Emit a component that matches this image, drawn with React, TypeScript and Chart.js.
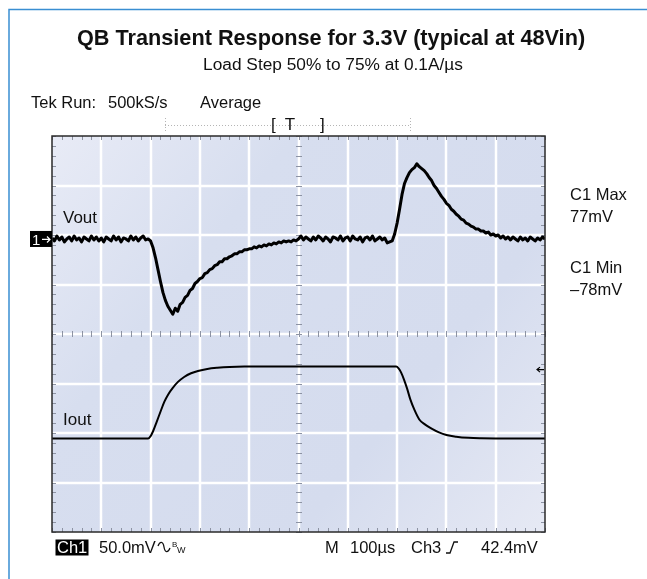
import React, { useEffect, useRef } from 'react';
import { Chart, registerables } from 'chart.js';

Chart.register(...registerables);

// ---------------- data ----------------
const TIME_MIN_US = 0;
const TIME_MAX_US = 1000;
const TIME_DIV_US = 100;
const VOUT_STEP_US = 5;
const VOUT_MV_PER_DIV = 50;
const VOUT_OFFSET_DIV = 1.92; // ch1 ground marker above screen centre
const IOUT_PCT_PER_DIV = 17.23;
const IOUT_50PCT_DIV = -2.11; // 50% load level below screen centre

// Vout deviation (mV) sampled every 5 µs, 0..1000 µs
const voutMv = [
  1, -2, 3, -1, 2, -3, 0, 2, -2, 3, -1, 1, -3, 2, 0, -2, 3, -1, 2, -2,
  1, -3, 2, 0, -2, 3, -1, 2, -3, 1, 0, -2, 3, -1, 2, -2, 1, 3, -1, 0,
  -2, -9, -19, -31, -43, -54, -62, -68, -72, -76, -70, -73, -66, -64, -59, -57, -52, -50, -45, -43,
  -40, -39, -35, -34, -31, -30, -27, -26, -23, -23, -20, -20, -18, -17, -15, -15, -13, -13, -11, -11,
  -10, -10, -8, -9, -7, -8, -6, -7, -5, -6, -4, -5, -3, -4, -2, -3, -2, -3, -1, -2,
  0, 3, -1, 2, 0, -2, 2, -1, 3, 1, -2, 2, 0, -3, 2, 1, -1, 3, -2, 1,
  2, -2, 3, 0, -1, 2, -3, 1, 2, -1, 3, -2, 0, 2, -1, 1, -4, -3, -2, 5,
  16, 30, 45, 56, 62, 67, 70, 72, 76, 73, 71, 69, 66, 62, 59, 54, 51, 47, 43, 40,
  36, 34, 30, 28, 25, 23, 20, 19, 16, 15, 13, 12, 10, 10, 8, 8, 6, 7, 4, 5,
  3, 4, 1, 3, 0, 2, -1, 2, 0, -2, 2, -1, 1, -2, 2, 0, -2, 1, -1, 2,
  0,
];

// Iout (% of full load)
const ioutTimesUs = [0, 195, 200, 205, 212, 220, 228, 236, 245, 255, 268, 282, 296, 315, 335, 360, 390,
  698, 703, 708, 714, 720, 727, 735, 745, 757, 770, 785, 800, 820, 845, 870, 900, 1000];
const ioutPct = [50, 50, 50.8, 52.5, 55.6, 59.3, 62.8, 65.4, 67.6, 69.6, 71.4, 72.7, 73.5, 74.2, 74.6, 74.9, 75,
  75, 74.4, 73, 70.5, 67.5, 63.5, 60, 56.6, 54.8, 53.4, 52.1, 51.2, 50.6, 50.2, 50.05, 50, 50];

// ---------------- text ----------------
const titleText = 'QB Transient Response for 3.3V (typical at 48Vin)';
const subtitleText = 'Load Step 50% to 75% at 0.1A/µs';
const tekRunText = 'Tek Run:';
const rateText = '500kS/s';
const modeText = 'Average';
const maxLabel = 'C1 Max';
const maxValue = '77mV';
const minLabel = 'C1 Min';
const minValue = '–78mV';
const voutLabel = 'Vout';
const ioutLabel = 'Iout';
const ch1Label = 'Ch1';
const ch1Scale = '50.0mV';
const timeBase = '100µs';
const trigSource = 'Ch3';
const trigLevel = '42.4mV';

const FONT = '"Liberation Sans", Arial, Helvetica, sans-serif';

const vMin = -(4 + VOUT_OFFSET_DIV) * VOUT_MV_PER_DIV;
const vMax = (4 - VOUT_OFFSET_DIV) * VOUT_MV_PER_DIV;
const iMin = 50 - (4 + IOUT_50PCT_DIV) * IOUT_PCT_PER_DIV;
const iMax = iMin + 8 * IOUT_PCT_PER_DIV;

function txt(ctx: CanvasRenderingContext2D, s: string, x: number, y: number, size: number,
  o: { bold?: boolean; color?: string; align?: CanvasTextAlign } = {}) {
  ctx.font = `${o.bold ? 'bold ' : ''}${size}px ${FONT}`;
  ctx.fillStyle = o.color ?? '#111';
  ctx.textAlign = o.align ?? 'left';
  ctx.textBaseline = 'alphabetic';
  ctx.fillText(s, x, y);
}

const overlay = {
  id: 'scopeOverlay',
  beforeDatasetsDraw(chart: any) {
    const { ctx, chartArea: a, scales } = chart;
    const xs = scales.x, ys = scales.yV;
    ctx.save();
    const g = ctx.createLinearGradient(a.left, a.top, a.right, a.bottom);
    g.addColorStop(0, '#e8ebf6');
    g.addColorStop(0.3, '#d7deef');
    g.addColorStop(0.7, '#d5dcee');
    g.addColorStop(1, '#e6e9f4');
    ctx.fillStyle = g;
    ctx.fillRect(a.left, a.top, a.right - a.left, a.bottom - a.top);

    ctx.strokeStyle = '#ffffff';
    ctx.lineWidth = 2.5;
    for (let t = TIME_MIN_US + TIME_DIV_US; t < TIME_MAX_US; t += TIME_DIV_US) {
      const px = Math.round(xs.getPixelForValue(t));
      ctx.beginPath(); ctx.moveTo(px, a.top); ctx.lineTo(px, a.bottom); ctx.stroke();
    }
    for (let k = 1; k < 8; k++) {
      const py = Math.round(ys.getPixelForValue(vMin + k * VOUT_MV_PER_DIV));
      ctx.beginPath(); ctx.moveTo(a.left, py); ctx.lineTo(a.right, py); ctx.stroke();
    }
    // centre graticule minor ticks
    ctx.strokeStyle = '#8d93a3';
    ctx.lineWidth = 1;
    const cx = Math.round(xs.getPixelForValue((TIME_MIN_US + TIME_MAX_US) / 2));
    const cy = Math.round(ys.getPixelForValue(vMin + 4 * VOUT_MV_PER_DIV));
    for (let t = TIME_MIN_US; t <= TIME_MAX_US; t += TIME_DIV_US / 5) {
      const px = Math.round(xs.getPixelForValue(t)) + 0.5;
      ctx.beginPath(); ctx.moveTo(px, cy - 3); ctx.lineTo(px, cy + 3); ctx.stroke();
      ctx.beginPath(); ctx.moveTo(px, a.bottom - 4); ctx.lineTo(px, a.bottom); ctx.stroke();
      ctx.beginPath(); ctx.moveTo(px, a.top); ctx.lineTo(px, a.top + 4); ctx.stroke();
    }
    for (let v = vMin; v <= vMax + 0.01; v += VOUT_MV_PER_DIV / 5) {
      const py = Math.round(ys.getPixelForValue(v)) + 0.5;
      ctx.beginPath(); ctx.moveTo(cx - 3, py); ctx.lineTo(cx + 3, py); ctx.stroke();
      ctx.beginPath(); ctx.moveTo(a.left, py); ctx.lineTo(a.left + 4, py); ctx.stroke();
      ctx.beginPath(); ctx.moveTo(a.right - 4, py); ctx.lineTo(a.right, py); ctx.stroke();
    }
    ctx.restore();
  },
  afterDatasetsDraw(chart: any) {
    const { ctx, chartArea: a, scales } = chart;
    const ys = scales.yV, yi = scales.yI;
    ctx.save();
    // plot border
    ctx.strokeStyle = '#2a2a2a';
    ctx.lineWidth = 1.5;
    ctx.strokeRect(a.left, a.top, a.right - a.left, a.bottom - a.top);

    // page frame (blue corner lines)
    ctx.strokeStyle = '#3a8ed2';
    ctx.lineWidth = 1.5;
    ctx.beginPath();
    ctx.moveTo(9, chart.height); ctx.lineTo(9, 9.5); ctx.lineTo(chart.width, 9.5);
    ctx.stroke();

    // ch1 ground marker
    const gy = ys.getPixelForValue(0);
    ctx.fillStyle = '#000';
    ctx.fillRect(30, gy - 8, a.left - 30, 16);
    txt(ctx, '1', 32, gy + 6, 15, { color: '#fff' });
    ctx.strokeStyle = '#fff';
    ctx.lineWidth = 1.2;
    ctx.beginPath();
    ctx.moveTo(42, gy + 0.5); ctx.lineTo(50, gy + 0.5);
    ctx.moveTo(47, gy - 2.5); ctx.lineTo(50, gy + 0.5); ctx.lineTo(47, gy + 3.5);
    ctx.stroke();

    // trigger level marker (right edge)
    const ty = yi.getPixelForValue(75) + 3;
    ctx.strokeStyle = '#000';
    ctx.lineWidth = 1.2;
    ctx.beginPath();
    ctx.moveTo(544, ty); ctx.lineTo(537, ty);
    ctx.moveTo(540, ty - 2.5); ctx.lineTo(537, ty); ctx.lineTo(540, ty + 2.5);
    ctx.stroke();
    ctx.restore();
  },
  afterDraw(chart: any) {
    const { ctx } = chart;
    ctx.save();
    txt(ctx, titleText, 331, 45, 21.7, { bold: true, align: 'center' });
    txt(ctx, subtitleText, 333, 70, 17.3, { align: 'center' });

    txt(ctx, tekRunText, 31, 108, 16.5);
    txt(ctx, rateText, 108, 108, 16.5);
    txt(ctx, modeText, 200, 108, 16.5);

    // trigger position bar
    ctx.strokeStyle = '#b5b5b5';
    ctx.lineWidth = 1;
    ctx.setLineDash([1, 2]);
    ctx.beginPath();
    ctx.moveTo(165, 125.5); ctx.lineTo(411, 125.5);
    ctx.moveTo(165.5, 118); ctx.lineTo(165.5, 133);
    ctx.moveTo(410.5, 118); ctx.lineTo(410.5, 133);
    ctx.stroke();
    ctx.setLineDash([]);
    txt(ctx, '[', 271, 130, 17);
    txt(ctx, 'T', 290, 130, 17, { align: 'center' });
    txt(ctx, ']', 320, 130, 17);

    txt(ctx, maxLabel, 570, 200, 16.5);
    txt(ctx, maxValue, 570, 222, 16.5);
    txt(ctx, minLabel, 570, 273, 16.5);
    txt(ctx, minValue, 570, 295, 16.5);

    txt(ctx, voutLabel, 63, 223, 17);
    txt(ctx, ioutLabel, 63, 425, 17);

    // bottom status line
    ctx.fillStyle = '#000';
    ctx.fillRect(55.5, 539.5, 33, 16);
    txt(ctx, ch1Label, 57, 553, 16.5, { color: '#fff' });
    txt(ctx, ch1Scale, 99, 553, 16.5);
    // bandwidth-limit glyph
    ctx.strokeStyle = '#111';
    ctx.lineWidth = 1.3;
    ctx.beginPath();
    ctx.moveTo(158, 546);
    ctx.bezierCurveTo(160, 541, 163, 541, 164, 547);
    ctx.bezierCurveTo(165, 553, 168, 553, 170, 548);
    ctx.stroke();
    txt(ctx, 'B', 172, 547, 8);
    txt(ctx, 'W', 177, 553, 9);

    txt(ctx, 'M', 325, 553, 16.5);
    txt(ctx, timeBase, 350, 553, 16.5);
    txt(ctx, trigSource, 411, 553, 16.5);
    // rising-edge glyph
    ctx.beginPath();
    ctx.moveTo(446, 553); ctx.lineTo(450, 553); ctx.lineTo(454, 542); ctx.lineTo(458, 542);
    ctx.stroke();
    txt(ctx, trigLevel, 481, 553, 16.5);
    ctx.restore();
  },
};

export default function App() {
  const ref = useRef<HTMLCanvasElement>(null);
  useEffect(() => {
    const canvas = ref.current!;
    const chart = new Chart(canvas, {
      type: 'line',
      data: {
        datasets: [
          {
            label: 'Vout',
            data: voutMv.map((v, i) => ({ x: TIME_MIN_US + i * VOUT_STEP_US, y: v })),
            yAxisID: 'yV',
            borderColor: '#000',
            borderWidth: 3,
            borderJoinStyle: 'round',
            pointRadius: 0,
            tension: 0,
            fill: false,
          },
          {
            label: 'Iout',
            data: ioutTimesUs.map((t, i) => ({ x: t, y: ioutPct[i] })),
            yAxisID: 'yI',
            borderColor: '#000',
            borderWidth: 2,
            pointRadius: 0,
            cubicInterpolationMode: 'monotone',
            fill: false,
          },
        ],
      },
      options: {
        responsive: false,
        animation: false,
        devicePixelRatio: 1,
        events: [],
        layout: { padding: { left: 52, right: 102, top: 136, bottom: 47 } },
        scales: {
          x: { type: 'linear', min: TIME_MIN_US, max: TIME_MAX_US, display: false },
          yV: { type: 'linear', min: vMin, max: vMax, display: false },
          yI: { type: 'linear', min: iMin, max: iMax, display: false },
        },
        plugins: {
          legend: { display: false },
          tooltip: { enabled: false },
          title: { display: false },
        },
      } as any,
      plugins: [overlay],
    });
    return () => chart.destroy();
  }, []);
  return (
    <div style={{ position: 'fixed', left: 0, top: 0, width: 647, height: 579, background: '#fff' }}>
      <canvas ref={ref} width={647} height={579} style={{ display: 'block', width: 647, height: 579 }} />
    </div>
  );
}
